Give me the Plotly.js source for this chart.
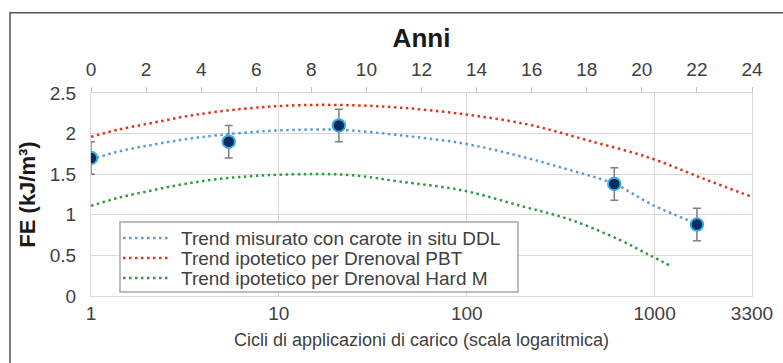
<!DOCTYPE html>
<html>
<head>
<meta charset="utf-8">
<script src="https://cdn.plot.ly/plotly-3.0.1.min.js"></script>
<style>
  html, body { margin: 0; padding: 0; background: #ffffff; }
  #chart { width: 783px; height: 363px; }
</style>
</head>
<body>
<div id="chart"></div>
<script>
// Measured fracture energy (FE) over the years, with ±0.2 error bars
const yearsMeasured = [0, 5, 9, 19, 22];
const feMeasured = [1.70, 1.90, 2.10, 1.38, 0.88];
const feError = [0.2, 0.2, 0.2, 0.2, 0.2];

// Trend curves (years, FE)
const yearsBlue = [0, 1, 2.2, 3.4, 4.6, 6.3, 8.1, 9.4, 11.2, 13.5, 15.6, 17.4, 19.0, 20.4, 22.0];
const feBlue = [1.68, 1.78, 1.86, 1.93, 1.98, 2.03, 2.05, 2.04, 1.98, 1.88, 1.72, 1.55, 1.38, 1.12, 0.89];

const yearsRed = [0, 1, 2.2, 3.4, 4.6, 6.0, 7.6, 9.4, 11.2, 13.5, 15.9, 18.0, 20.3, 22.2, 24.0];
const feRed = [1.96, 2.05, 2.13, 2.21, 2.27, 2.32, 2.35, 2.35, 2.32, 2.24, 2.11, 1.92, 1.70, 1.45, 1.22];

const yearsGreen = [0, 1, 2.2, 3.4, 4.6, 6.0, 7.6, 9.4, 11.2, 13.5, 15.6, 17.4, 19.2, 20.3, 21.1];
const feGreen = [1.11, 1.21, 1.30, 1.38, 1.44, 1.48, 1.50, 1.49, 1.41, 1.30, 1.11, 0.94, 0.69, 0.50, 0.36];

// Axis labels
const yearTicks = [0, 2, 4, 6, 8, 10, 12, 14, 16, 18, 20, 22, 24];
const cycleTicks = [1, 10, 100, 1000, 3300];
const feTicks = [0, 0.5, 1, 1.5, 2, 2.5];
const legendNames = [
  'Trend misurato con carote in situ DDL',
  'Trend ipotetico per Drenoval PBT',
  'Trend ipotetico per Drenoval Hard M'
];
const trendColors = ['#5b9bd5', '#d9381e', '#2e9a3e'];

const FONT = 'Liberation Sans, Arial, sans-serif';
const dots = '2.5px,3.5px';

const trendX = [yearsBlue, yearsRed, yearsGreen];
const trendY = [feBlue, feRed, feGreen];

const traces = trendX.map((xs, i) => ({
  x: xs, y: trendY[i], xaxis: 'x', yaxis: 'y', type: 'scatter', mode: 'lines',
  name: legendNames[i], showlegend: false,
  line: { color: trendColors[i], width: 2.5, dash: dots, shape: 'spline' },
  hoverinfo: 'skip'
}));

traces.push({
  x: yearsMeasured, y: feMeasured, xaxis: 'x', yaxis: 'y', type: 'scatter', mode: 'markers',
  showlegend: false,
  marker: { size: 12.5, color: '#0b2a5e', line: { color: '#35aee6', width: 2 } },
  error_y: { type: 'data', array: feError, visible: true, color: '#7f7f7f', thickness: 1.5, width: 4 }
});

// keeps the logarithmic cycles axis attached to the plot
traces.push({
  x: [], y: [], xaxis: 'x2', yaxis: 'y', type: 'scatter', mode: 'markers',
  showlegend: false, hoverinfo: 'skip'
});

// pixel -> paper helpers for the frame and the key box
const px = (v) => (v - 91) / 661;
const py = (v) => (296 - v) / 203;

const keyLeft = 120, keyRight = 518, keyTop = 222, keyBottom = 292;
const keyRows = [238, 258, 278];

const shapes = [
  {
    type: 'rect', xref: 'paper', yref: 'paper',
    x0: px(10), x1: px(800), y0: py(380), y1: py(12.7),
    line: { color: '#555555', width: 1.5 }, fillcolor: 'rgba(0,0,0,0)', layer: 'above'
  },
  {
    type: 'rect', xref: 'paper', yref: 'paper',
    x0: px(keyLeft), x1: px(keyRight), y0: py(keyBottom), y1: py(keyTop),
    line: { color: '#a6a6a6', width: 1.5 }, fillcolor: '#ffffff', layer: 'above'
  }
];
const annotations = [];
legendNames.forEach((name, i) => {
  shapes.push({
    type: 'line', xref: 'paper', yref: 'paper',
    x0: px(123), x1: px(170), y0: py(keyRows[i]), y1: py(keyRows[i]),
    line: { color: trendColors[i], width: 2.5, dash: dots }, layer: 'above'
  });
  annotations.push({
    xref: 'paper', yref: 'paper', x: px(179), y: py(keyRows[i]),
    xanchor: 'left', yanchor: 'middle', showarrow: false, text: name,
    font: { family: FONT, size: 19, color: '#404040' }
  });
});

const layout = {
  width: 783,
  height: 363,
  margin: { l: 91, r: 31, t: 93, b: 67 },
  paper_bgcolor: '#ffffff',
  plot_bgcolor: '#ffffff',
  font: { family: FONT, color: '#404040', size: 19 },
  showlegend: false,
  xaxis: {
    side: 'top', range: [0, 24], tickvals: yearTicks, ticktext: yearTicks.map(String),
    showgrid: false, zeroline: false,
    ticks: 'outside', ticklen: 5, tickcolor: '#bfbfbf', tickwidth: 1,
    showline: true, linecolor: '#d9d9d9', linewidth: 1, ticklabelstandoff: 3,
    tickfont: { family: FONT, size: 19, color: '#404040' },
    title: { text: 'Anni', font: { family: FONT, size: 26, color: '#1a1a1a', weight: 'bold' }, standoff: 4 }
  },
  xaxis2: {
    type: 'log', overlaying: 'x', side: 'bottom', anchor: 'y',
    range: [0, Math.log10(3300)], tickvals: cycleTicks, ticktext: cycleTicks.map(String),
    showgrid: true, gridcolor: '#d9d9d9', gridwidth: 1, zeroline: false,
    ticks: '', showline: true, linecolor: '#d9d9d9', linewidth: 1,
    tickfont: { family: FONT, size: 19, color: '#404040' },
    title: { text: 'Cicli di applicazioni di carico (scala logaritmica)', font: { family: FONT, size: 18, color: '#404040' }, standoff: 10 }
  },
  yaxis: {
    range: [0, 2.5], tickvals: feTicks, ticktext: feTicks.map(String),
    showgrid: true, gridcolor: '#d9d9d9', gridwidth: 1, zeroline: false,
    ticks: '', showline: true, mirror: true, linecolor: '#d9d9d9', linewidth: 1,
    ticklabelstandoff: 10,
    tickfont: { family: FONT, size: 19, color: '#404040' },
    title: { text: 'FE (kJ/m³)', font: { family: FONT, size: 22, color: '#1a1a1a', weight: 'bold' }, standoff: 8 }
  },
  shapes: shapes,
  annotations: annotations
};

Plotly.newPlot('chart', traces, layout, { displayModeBar: false, staticPlot: true });
</script>
</body>
</html>
